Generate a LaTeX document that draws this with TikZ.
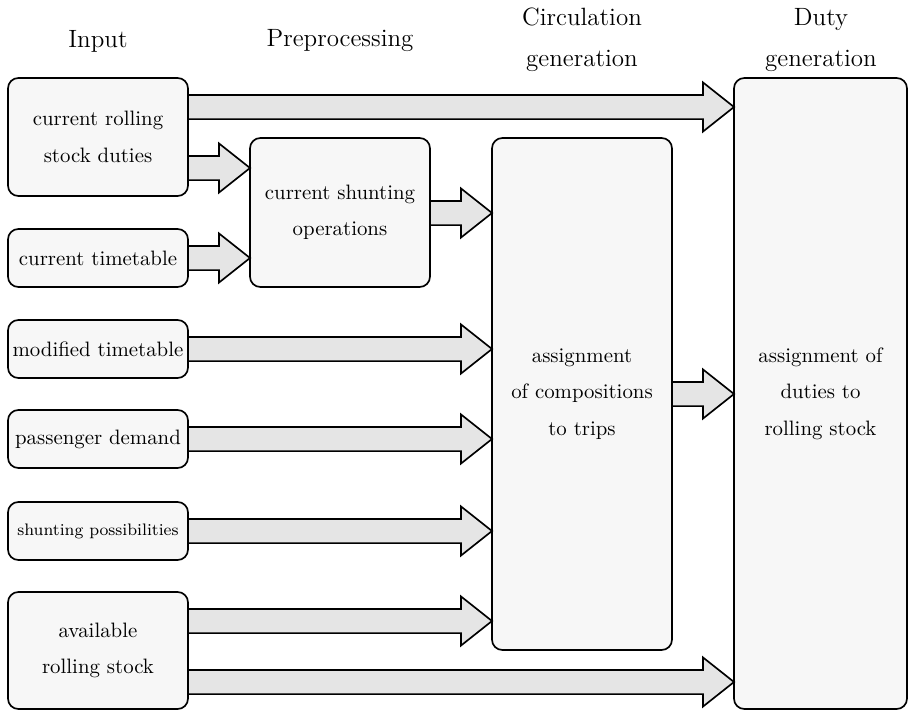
\documentclass[tikz,border=0pt]{standalone}
\usetikzlibrary{calc}
\tikzset{
  px/.style={x=0.48pt,y=-0.48pt},
  stagebox/.style={draw=black,line width=0.8pt,rounded corners=5pt,fill=black!3,
    inner sep=0pt,outer sep=0pt,align=center,
    font=\normalsize\setlength{\baselineskip}{17.5pt}},
  header/.style={align=center,font=\large\setlength{\baselineskip}{19.5pt}},
  arrowbody/.style={draw=black,line width=0.8pt,fill=black!10,line join=miter},
}
\newcommand{\fatarrow}[3]{%
  \path[arrowbody] let \p1=(#1.east |- 0,#3), \p2=(#2.west |- 0,#3) in
    (\x1,\y1+5.8pt) -- (\x2-14.9pt,\y1+5.8pt) -- (\x2-14.9pt,\y1+11.8pt) -- (\x2,\y1)
    -- (\x2-14.9pt,\y1-11.8pt) -- (\x2-14.9pt,\y1-5.8pt) -- (\x1,\y1-5.8pt) -- cycle;
}
\begin{document}
\begin{tikzpicture}[px]
\useasboundingbox (0,0) rectangle (908,712);
% headers
\node[header] (h1) at (98,41) {Input};
\node[header] (h2) at (340,41) {Preprocessing};
\node[header] (h3) at (582,40) {Circulation\\generation};
\node[header] (h4) at (821,40) {Duty\\generation};
% input boxes
\node[stagebox,minimum width=180*0.48pt,minimum height=118*0.48pt] (A) at (98,137) {current rolling\\stock duties};
\node[stagebox,minimum width=180*0.48pt,minimum height=58*0.48pt] (B) at (98,258) {current timetable};
\node[stagebox,minimum width=180*0.48pt,minimum height=58*0.48pt] (C) at (98,349) {modified timetable};
\node[stagebox,minimum width=180*0.48pt,minimum height=58*0.48pt] (D) at (98,439) {passenger demand};
\node[stagebox,minimum width=180*0.48pt,minimum height=58*0.48pt,font=\footnotesize] (E) at (98,531) {shunting possibilities};
\node[stagebox,minimum width=180*0.48pt,minimum height=117*0.48pt] (F) at (98,650.5) {available\\rolling stock};
% processing boxes
\node[stagebox,minimum width=180*0.48pt,minimum height=149*0.48pt] (P) at (340,212.5) {current shunting\\operations};
\node[stagebox,minimum width=180*0.48pt,minimum height=512*0.48pt] (Q) at (582,394) {assignment\\of compositions\\to trips};
\node[stagebox,minimum width=173*0.48pt,minimum height=631*0.48pt] (R) at (820.5,393.5) {assignment of\\duties to\\rolling stock};
% arrows
\fatarrow{A}{R}{107}
\fatarrow{A}{P}{168}
\fatarrow{B}{P}{258}
\fatarrow{P}{Q}{213}
\fatarrow{C}{Q}{349}
\fatarrow{D}{Q}{439}
\fatarrow{E}{Q}{531}
\fatarrow{F}{Q}{621}
\fatarrow{F}{R}{682}
\fatarrow{Q}{R}{394}
\end{tikzpicture}
\end{document}
